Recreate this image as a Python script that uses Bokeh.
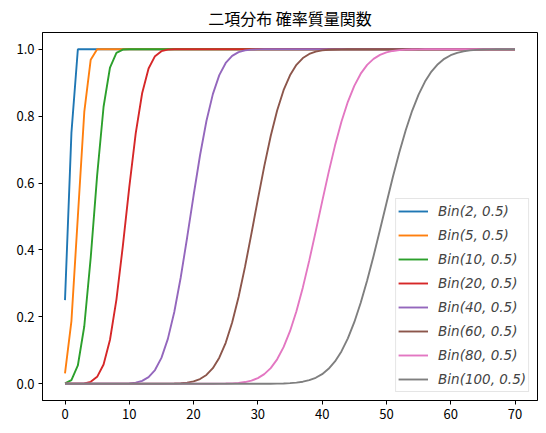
from bokeh.plotting import figure
from bokeh.models import Range1d, FixedTicker, PrintfTickFormatter
from bokeh.embed import file_html
from bokeh.resources import INLINE

title_text = "二項分布 確率質量関数"
x_values = list(range(0, 71))
x_ticks = [0, 10, 20, 30, 40, 50, 60, 70]
y_ticks = [0.0, 0.2, 0.4, 0.6, 0.8, 1.0]

labels = ["Bin(2, 0.5)", "Bin(5, 0.5)", "Bin(10, 0.5)", "Bin(20, 0.5)",
          "Bin(40, 0.5)", "Bin(60, 0.5)", "Bin(80, 0.5)", "Bin(100, 0.5)"]
colors = ["#1f77b4", "#ff7f0e", "#2ca02c", "#d62728",
          "#9467bd", "#8c564b", "#e377c2", "#7f7f7f"]

bin2 = [0.25, 0.75] + [1.0] * 69
bin5 = [0.0313, 0.1875, 0.5, 0.8125, 0.9688] + [1.0] * 66
bin10 = [0.001, 0.0107, 0.0547, 0.1719, 0.377, 0.623, 0.8281, 0.9453, 0.9893, 0.999] + [1.0] * 61
bin20 = [0.0, 0.0, 0.0002, 0.0013, 0.0059, 0.0207, 0.0577, 0.1316, 0.2517, 0.4119,
         0.5881, 0.7483, 0.8684, 0.9423, 0.9793, 0.9941, 0.9987, 0.9998] + [1.0] * 53
bin40 = [0.0] * 8 + [0.0001, 0.0004, 0.0013, 0.0036, 0.0088, 0.0199, 0.0410, 0.0774,
                     0.1342, 0.2145, 0.3177, 0.4373, 0.5627, 0.6823, 0.7855, 0.8658,
                     0.9226, 0.9590, 0.9801, 0.9912, 0.9964, 0.9987, 0.9996, 0.9999] + [1.0] * 39
bin60 = [0.0] * 15 + [0.0001, 0.0003, 0.0006, 0.0015, 0.0034, 0.0071, 0.0141, 0.0264,
                      0.0467, 0.0778, 0.1226, 0.1831, 0.2594, 0.3494, 0.4487, 0.5513,
                      0.6506, 0.7406, 0.8169, 0.8774, 0.9222, 0.9533, 0.9736, 0.9859,
                      0.9929, 0.9966, 0.9985, 0.9994, 0.9997, 0.9999] + [1.0] * 26
bin80 = [0.0] * 22 + [0.0001, 0.0001, 0.0003, 0.0006, 0.0013, 0.0026, 0.0051, 0.0094,
                      0.0168, 0.0287, 0.0468, 0.0731, 0.1094, 0.1572, 0.2168, 0.2881,
                      0.3688, 0.4555, 0.5445, 0.6312, 0.7119, 0.7832, 0.8428, 0.8906,
                      0.9269, 0.9532, 0.9713, 0.9832, 0.9906, 0.9949, 0.9974, 0.9987,
                      0.9994, 0.9997, 0.9999, 0.9999] + [1.0] * 13
bin100 = [0.0] * 30 + [0.0, 0.0001, 0.0002, 0.0005, 0.0010, 0.0019, 0.0035, 0.0062,
                       0.0107, 0.0179, 0.0287, 0.0446, 0.0668, 0.0968, 0.1357, 0.1841,
                       0.2420, 0.3085, 0.3821, 0.4602, 0.5398, 0.6179, 0.6915, 0.7580,
                       0.8159, 0.8643, 0.9032, 0.9332, 0.9554, 0.9713, 0.9821, 0.9893,
                       0.9938, 0.9965, 0.9981, 0.9990, 0.9995, 0.9998, 0.9999, 1.0, 1.0]

series = [bin2, bin5, bin10, bin20, bin40, bin60, bin80, bin100]

p = figure(width=538, height=425, output_backend="svg", toolbar_location=None,
           x_range=Range1d(-3.5, 73.5), y_range=Range1d(-0.05, 1.05),
           min_border_left=42, min_border_right=1, min_border_top=32, min_border_bottom=25,
           title=title_text)

for ys, lab, col in zip(series, labels, colors):
    p.line(x_values, ys, line_color=col, line_width=1.9, legend_label=lab)

p.title.align = "center"
p.title.text_font = "Noto Sans CJK JP"
p.title.text_font_size = "16px"
p.title.text_font_style = "normal"
p.title.text_color = "black"
p.title.standoff = 5
p.title.offset = 0

p.grid.visible = False
p.outline_line_color = "black"
p.outline_line_width = 1
p.outline_line_alpha = 1
p.background_fill_color = "white"
p.border_fill_color = "white"

p.xaxis.ticker = FixedTicker(ticks=x_ticks)
p.yaxis.ticker = FixedTicker(ticks=y_ticks)
p.yaxis.formatter = PrintfTickFormatter(format="%.1f")
for ax in (p.xaxis, p.yaxis):
    ax.minor_tick_line_color = None
    ax.major_tick_in = 0
    ax.major_tick_out = 4
    ax.major_tick_line_color = "black"
    ax.axis_line_color = "black"
    ax.major_label_text_font = "Noto Sans CJK JP"
    ax.major_label_text_font_size = "13px"
    ax.major_label_text_color = "black"
    ax.major_label_standoff = 4

p.legend.location = "bottom_right"
p.legend.margin = 8
p.legend.padding = 2
p.legend.spacing = 4
p.legend.label_height = 20
p.legend.glyph_height = 20
p.legend.glyph_width = 30
p.legend.label_standoff = 10
p.legend.label_text_font = "DejaVu Sans"
p.legend.label_text_font_style = "italic"
p.legend.label_text_font_size = "13.5px"
p.legend.border_line_color = "#cccccc"
p.legend.border_line_width = 1
p.legend.background_fill_alpha = 0.8

open("out.html", "w").write(file_html(p, INLINE))
